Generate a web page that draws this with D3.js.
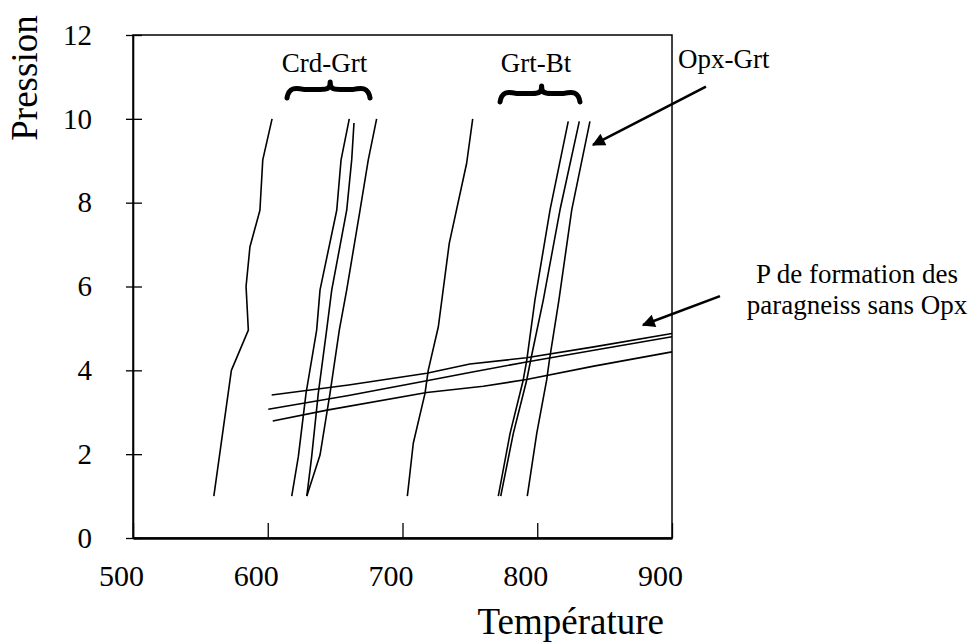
<!DOCTYPE html>
<html><head><meta charset="utf-8">
<script src="https://cdn.jsdelivr.net/npm/d3@7"></script>
<style>
body{margin:0;background:#fff}
svg{display:block}
text{font-family:"Liberation Serif","Times New Roman",serif;fill:#000}
</style>
</head><body>
<svg id="chart" width="972" height="643"></svg>
<script>
// ---- data ----
const xTicks = [500, 600, 700, 800, 900];
const yTicks = [0, 2, 4, 6, 8, 10, 12];
const xTitle = "Température";
const yTitle = "Pression";

// isopleths [Température, Pression]
const iso1 = [[560,1],[573,4],[585.6,4.96],[583.9,6],[586.8,6.95],[594.2,7.82],[596.3,9.02],[603.2,10]];
const crdGrt1 = [[617.8,1],[622.7,1.94],[628.4,3.45],[636.3,4.96],[638.8,5.92],[651.2,7.82],[654.4,9.02],[660.5,10]];
const crdGrt2 = [[629,1],[632.6,1.94],[637.5,3.45],[643.7,4.96],[647.5,5.92],[658.6,7.82],[662.3,9.02],[664,9.9]];
const crdGrt3 = [[629,1],[638.8,1.98],[646.2,3.45],[653.1,4.96],[658.6,5.92],[668.5,7.82],[674.6,9.02],[680.8,10]];
const iso5 = [[703.6,1],[708,2.26],[716.7,3.45],[719.1,4],[726.6,5.04],[734.7,7.03],[747.6,8.94],[752.1,10]];
const grtBt1 = [[771.1,1],[779.8,2.49],[789.6,3.77],[792.2,4.24],[798.3,5.68],[809.5,7.83],[823,9.94]];
const grtBt2 = [[772.9,1],[782.2,2.49],[792.2,3.77],[795.1,4.24],[804.5,5.68],[816.9,7.83],[831.2,9.94]];
const opxGrt = [[792.6,1],[799.6,2.49],[807,3.77],[809,4.24],[816.1,5.68],[825.6,7.83],[839.1,9.94]];
// pressure of formation lines
const pUpper  = [[602.9,3.41],[660,3.65],[718,3.93],[750,4.15],[792,4.3],[842,4.56],[900,4.88]];
const pMiddle = [[600.4,3.07],[660,3.4],[718,3.75],[750,3.95],[792,4.2],[842,4.48],[900,4.8]];
const pLower  = [[603.7,2.79],[644,3.05],[718,3.47],[760,3.62],[792,3.78],[842,4.1],[900,4.44]];

const isopleths = [iso1, crdGrt1, crdGrt2, crdGrt3, iso5, grtBt1, grtBt2, opxGrt, pUpper, pMiddle, pLower];

const groupLabels = ["Crd-Grt", "Grt-Bt"];
const groupSpans = [[614.3, 675.9], [772.4, 831.7]];
const arrowLabelOpx = "Opx-Grt";
const arrowLabelP = ["P de formation des", "paragneiss sans Opx"];
// arrows [tail, head] in data units
const arrowOpx = [[925.2, 10.77], [841.4, 9.38]];
const arrowP = [[935.6, 5.77], [878.5, 5.08]];

// ---- layout ----
const FONT = '"Liberation Serif","Times New Roman",serif';
const svg = d3.select("#chart");
const x = d3.scaleLinear().domain([500, 900]).range([133, 672]);
const y = d3.scaleLinear().domain([0, 12]).range([538, 35]);

svg.append("defs").append("marker")
  .attr("id", "ah").attr("viewBox", "0 0 10 10").attr("refX", 9).attr("refY", 5)
  .attr("markerWidth", 7).attr("markerHeight", 5).attr("orient", "auto")
  .attr("markerUnits", "strokeWidth")
  .append("path").attr("d", "M0,0 L10,5 L0,10 Z").attr("fill", "#000");

// frame
svg.append("rect")
  .attr("x", x(500)).attr("y", y(12))
  .attr("width", x(900) - x(500)).attr("height", y(0) - y(12))
  .attr("fill", "none").attr("stroke", "#000").attr("stroke-width", 1.5);

// x axis
const gx = svg.append("g").attr("transform", `translate(0,${y(0)})`)
  .call(d3.axisBottom(x).tickValues(xTicks).tickSizeInner(-15).tickSizeOuter(0).tickPadding(27).tickFormat(d3.format("d")));
gx.attr("font-family", FONT);
gx.select(".domain").attr("stroke", "#000").attr("stroke-width", 2.4);
gx.selectAll(".tick line").attr("stroke", "#000").attr("stroke-width", 1.3);
gx.selectAll(".tick text").attr("font-size", 30).attr("dx", -12).style("font-family", FONT);

// y axis
const gy = svg.append("g").attr("transform", `translate(${x(500)},0)`)
  .call(d3.axisLeft(y).tickValues(yTicks).tickSizeInner(7).tickSizeOuter(0).tickPadding(34).tickFormat(d3.format("d")));
gy.attr("font-family", FONT);
gy.select(".domain").attr("stroke", "#000").attr("stroke-width", 1.6);
gy.selectAll(".tick line").attr("stroke", "#000").attr("stroke-width", 1.3).attr("x2", 9).attr("x1", -7);
gy.selectAll(".tick text").attr("font-size", 29).style("font-family", FONT);

// titles
svg.append("text").attr("transform", "translate(37,78) rotate(-90)")
  .attr("text-anchor", "middle").attr("font-size", 37).attr("font-family", FONT).text(yTitle);
svg.append("text").attr("x", 664).attr("y", 634)
  .attr("text-anchor", "end").attr("font-size", 37).attr("font-family", FONT).text(xTitle);

// curves
const line = d3.line().x(d => x(d[0])).y(d => y(d[1]));
svg.append("g").selectAll("path").data(isopleths).join("path")
  .attr("d", line).attr("fill", "none").attr("stroke", "#000").attr("stroke-width", 1.6)
  .attr("stroke-linejoin", "round");

// braces and group labels
function brace(x0, x1, yt, yb) {
  const w = x1 - x0, xm = x0 + 0.52 * w, ym = yt + (yb - yt) * 0.4;
  return `M${x0},${yb} C${x0 + 0.02 * w},${ym - 1} ${x0 + 0.1 * w},${ym - 1} ${x0 + 0.2 * w},${ym + 1}` +
    ` L${xm - 0.12 * w},${ym + 1} C${xm - 0.03 * w},${ym + 1} ${xm},${ym} ${xm},${yt}` +
    ` C${xm},${ym} ${xm + 0.03 * w},${ym + 1} ${xm + 0.12 * w},${ym + 1}` +
    ` L${x1 - 0.2 * w},${ym + 1} C${x1 - 0.1 * w},${ym - 1} ${x1 - 0.02 * w},${ym - 1} ${x1},${yb}`;
}
groupLabels.forEach((lab, i) => {
  const [t0, t1] = groupSpans[i];
  const xb0 = x(t0), xb1 = x(t1);
  const yt = i === 0 ? 82 : 86, yb = i === 0 ? 98 : 102;
  svg.append("path").attr("d", brace(xb0, xb1, yt, yb))
    .attr("fill", "none").attr("stroke", "#000").attr("stroke-width", 5)
    .attr("stroke-linecap", "round").attr("stroke-linejoin", "round");
  svg.append("text").attr("x", (xb0 + xb1) / 2 - 4).attr("y", 72)
    .attr("text-anchor", "middle").attr("font-size", 27).attr("font-family", FONT).text(lab);
});

// arrows and their labels
[arrowOpx, arrowP].forEach(a => {
  svg.append("line")
    .attr("x1", x(a[0][0])).attr("y1", y(a[0][1]))
    .attr("x2", x(a[1][0])).attr("y2", y(a[1][1]))
    .attr("stroke", "#000").attr("stroke-width", 2.6).attr("marker-end", "url(#ah)");
});
svg.append("text").attr("x", 678).attr("y", 68).attr("font-size", 27).attr("font-family", FONT).text(arrowLabelOpx);
svg.append("text").attr("text-anchor", "middle").attr("font-size", 27).attr("font-family", FONT)
  .selectAll("tspan").data(arrowLabelP).join("tspan")
  .attr("x", 857).attr("y", (d, i) => 283 + i * 31).text(d => d);
</script>
</body></html>
